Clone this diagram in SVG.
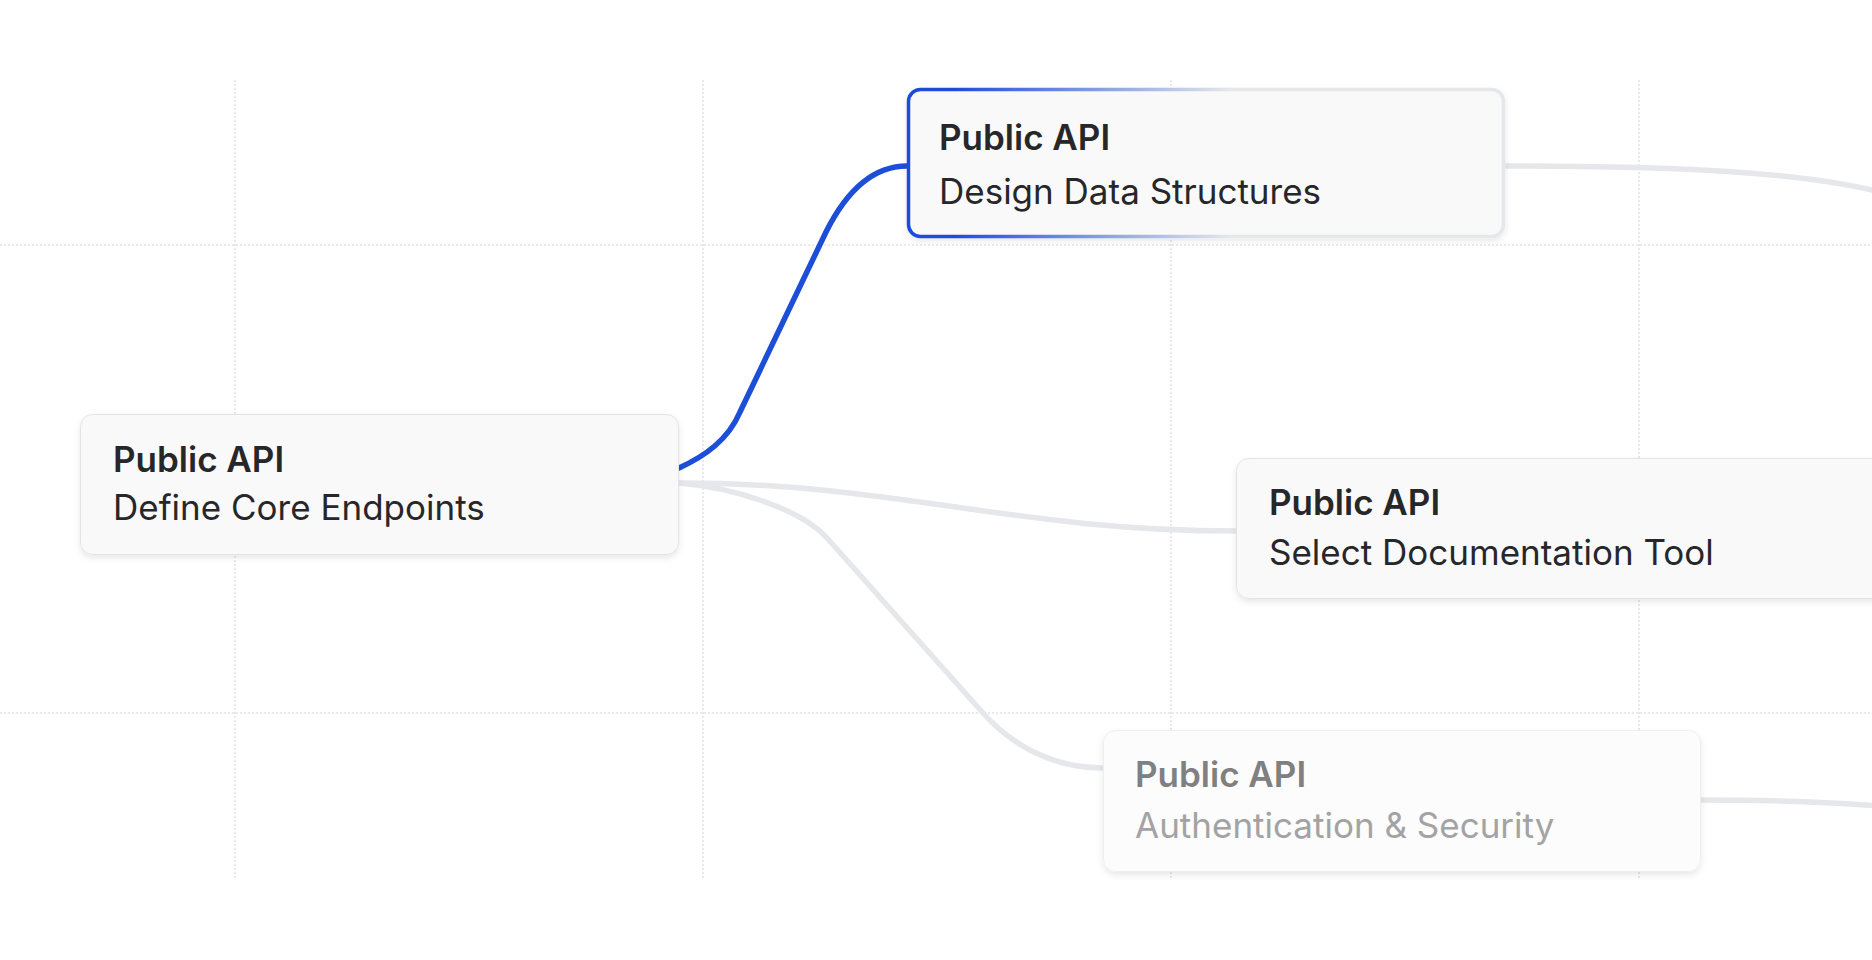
<svg xmlns="http://www.w3.org/2000/svg" width="1872" height="960" viewBox="0 0 1872 960">
<style>
.grid{stroke:#e3e3e3;stroke-width:1.6;stroke-dasharray:2 2;fill:none}
.edge{fill:none;stroke:#e5e7eb;stroke-width:5.5;stroke-linecap:round}
.edge-active{fill:none;stroke:#1d4ed8;stroke-width:5.5;stroke-linecap:round}
.card{fill:#f9f9f9;stroke:#e4e4e7;stroke-width:1}
.title{font-family:Inter,"Liberation Sans",sans-serif;font-weight:600;font-size:35px;fill:#27272a}
.sub{font-family:Inter,"Liberation Sans",sans-serif;font-weight:400;font-size:35px;fill:#27272a}
</style>
<defs>
<filter id="shadow" x="-10%" y="-20%" width="120%" height="150%">
<feDropShadow dx="0" dy="3" stdDeviation="3" flood-color="#000" flood-opacity="0.09"/>
</filter>
<linearGradient id="activeBorder" gradientUnits="userSpaceOnUse" x1="907" y1="0" x2="1230" y2="0">
<stop offset="0" stop-color="#1d4ed8"/>
<stop offset="0.15" stop-color="#1d4ed8"/>
<stop offset="1" stop-color="#e5e7eb"/>
</linearGradient>
</defs>
<rect width="1872" height="960" fill="#ffffff"/>
<g id="grid">
<line class="grid" x1="235" y1="80" x2="235" y2="878"/>
<line class="grid" x1="703" y1="80" x2="703" y2="878"/>
<line class="grid" x1="1171" y1="80" x2="1171" y2="878"/>
<line class="grid" x1="1639" y1="80" x2="1639" y2="878"/>
<line class="grid" x1="0" y1="245" x2="1872" y2="245"/>
<line class="grid" x1="0" y1="713" x2="1872" y2="713"/>
</g>
<g id="connectors">
<path class="edge" d="M679 483 C900 483 1010 531 1237 531"/>
<path class="edge" d="M679 483 C730 487 800 508 827 538 L983 713 C1010 743 1050 768 1103 768"/>
<path class="edge" d="M1505 166 C1680 166 1800 172 1880 192"/>
<path class="edge" d="M1701 800 C1780 800 1830 802 1880 806"/>
<path class="edge-active" d="M679 468 C705 456 728 440 740 412 L826 232 C844 196 870 166 907 166"/>
</g>
<g id="node-define-core-endpoints">
<rect class="card" x="80.5" y="414.5" width="598" height="140" rx="12" filter="url(#shadow)"/>
<text class="title" x="113" y="472">Public API</text>
<text class="sub" x="113" y="520">Define Core Endpoints</text>
</g>
<g id="node-design-data-structures">
<rect x="908.5" y="89.5" width="595" height="147" rx="12" fill="#f9f9f9" stroke="url(#activeBorder)" stroke-width="3.5" filter="url(#shadow)"/>
<text class="title" x="939" y="150">Public API</text>
<text class="sub" x="939" y="204">Design Data Structures</text>
</g>
<g id="node-select-documentation-tool">
<rect class="card" x="1236.5" y="458.5" width="700" height="140" rx="12" filter="url(#shadow)"/>
<text class="title" x="1269" y="515">Public API</text>
<text class="sub" x="1269" y="565">Select Documentation Tool</text>
</g>
<g id="node-authentication-security">
<rect x="1103.5" y="730.5" width="597" height="141" rx="12" fill="#fcfcfc" stroke="#efeff1" stroke-width="1" filter="url(#shadow)"/>
<text class="title" x="1135" y="787" style="fill:#808080">Public API</text>
<text class="sub" x="1135" y="838" style="fill:#a3a3a3">Authentication &amp; Security</text>
</g>
</svg>
